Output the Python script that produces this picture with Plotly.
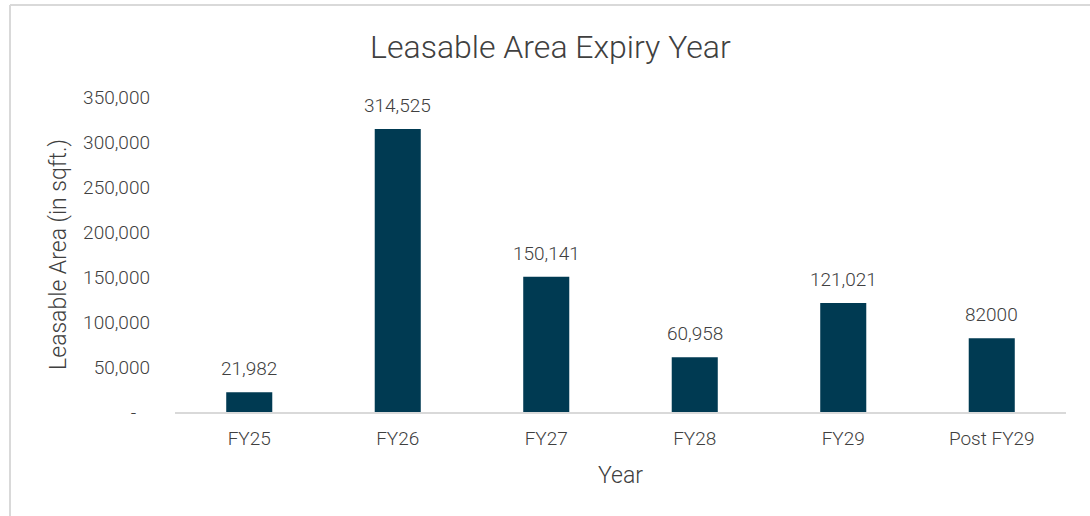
import plotly.graph_objects as go

categories = ["FY25", "FY26", "FY27", "FY28", "FY29", "Post FY29"]
values = [21982, 314525, 150141, 60958, 121021, 82000]
labels = ["21,982", "314,525", "150,141", "60,958", "121,021", "82000"]
tick_vals = [0, 50000, 100000, 150000, 200000, 250000, 300000, 350000]
tick_text = ["-\u00a0\u00a0\u00a0", "50,000", "100,000", "150,000", "200,000", "250,000", "300,000", "350,000"]

FONT = "Roboto"
TXT = "#404040"

fig = go.Figure()
fig.add_trace(go.Bar(
    x=categories, y=values,
    marker=dict(color="#003A52", line=dict(width=0)),
    width=0.31, cliponaxis=False, hoverinfo="x+y",
))

for c, v, t in zip(categories, values, labels):
    fig.add_annotation(x=c, y=v, text=t, showarrow=False, yanchor="bottom", yshift=10,
                       font=dict(family=FONT, size=19, color=TXT, weight=300))

fig.update_layout(
    width=1090, height=516,
    margin=dict(l=175, r=24, t=97, b=104),
    paper_bgcolor="white", plot_bgcolor="white",
    showlegend=False,
    title=dict(text="Leasable Area Expiry Year", x=0.505, xanchor="center", y=0.91, yanchor="middle",
               font=dict(family=FONT, size=32, color=TXT, weight=300)),
    font=dict(family=FONT, color=TXT, weight=300),
    xaxis=dict(
        showgrid=False, showline=True, linecolor="#d9d9d9", linewidth=2,
        ticks="", tickfont=dict(family=FONT, size=19, color=TXT, weight=300),
        ticklabelstandoff=8,
        title=dict(text="Year", font=dict(family=FONT, size=23, color=TXT, weight=300), standoff=18),
    ),
    yaxis=dict(
        range=[0, 350000], tickvals=tick_vals, ticktext=tick_text,
        showgrid=False, zeroline=False, showline=False, ticks="",
        tickfont=dict(family=FONT, size=19, color=TXT, weight=300),
        ticklabelstandoff=24,
        title=dict(text="Leasable Area (in sqft.)", font=dict(family=FONT, size=23, color=TXT, weight=300), standoff=10),
    ),
    bargap=0.69,
)

# outer chart border (top & left visible)
fig.add_shape(type="line", xref="paper", yref="paper", x0=-165/891, x1=1.05, y0=(516-104-5)/315, y1=(516-104-5)/315,
              line=dict(color="#d9d9d9", width=2))
fig.add_shape(type="line", xref="paper", yref="paper", x0=-165/891, x1=-165/891, y0=(516-104-5)/315, y1=-0.5,
              line=dict(color="#d9d9d9", width=2))

fig.write_html("out.html", config={"displayModeBar": False},
               post_script="document.body.style.margin='0';document.body.style.overflow='hidden';")
